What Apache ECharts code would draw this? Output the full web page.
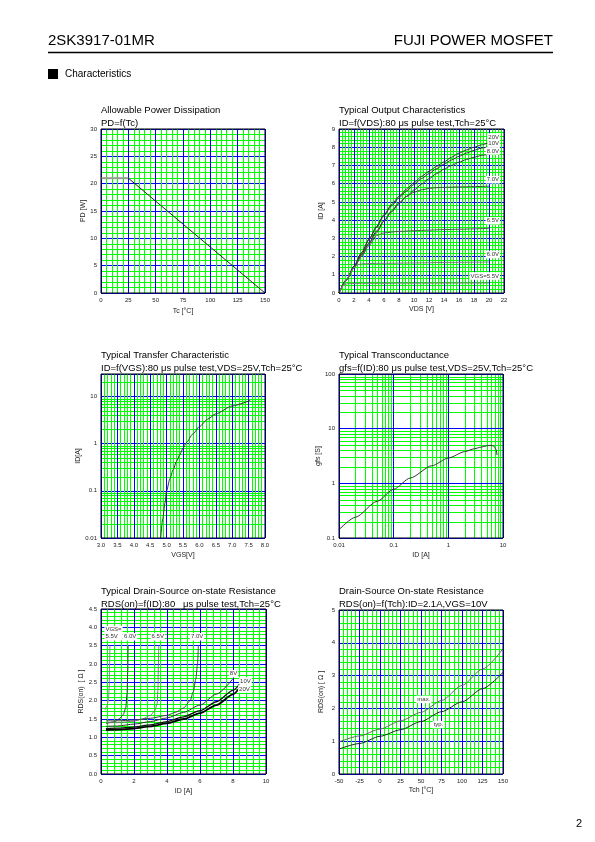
<!DOCTYPE html>
<html><head><meta charset="utf-8">
<script src="https://cdn.jsdelivr.net/npm/echarts@6/dist/echarts.min.js"></script>
<style>html,body{margin:0;padding:0;background:#fff}#c{width:595px;height:842px}</style>
</head><body><div id="c"></div>
<script>
// ---------- DATA ----------
// Chart 1: Allowable Power Dissipation  [Tc, PD]
const pdFlat = [[0, 21], [25, 21]];
const pdDerate = [[25, 21], [150, 0]];

// Chart 2: Typical Output Characteristics [VDS, ID]
const outNames = ['20V', '10V', '8.0V', '7.0V', '6.5V', '6.0V', 'VGS=5.5V'];
const out20 = [[0,0],[1,0.74],[2,1.47],[3,2.2],[4,2.95],[5,3.65],[6,4.3],[7,4.85],[8,5.3],[9,5.7],[10,6.05],[11,6.4],[12,6.68],[13,6.95],[14,7.2],[15,7.45],[16,7.68],[17,7.85],[18,8.0],[19,8.13],[20,8.26]];
const out10 = [[0,0],[1,0.74],[2,1.47],[3,2.2],[4,2.93],[5,3.6],[6,4.25],[7,4.78],[8,5.22],[9,5.6],[10,5.95],[11,6.28],[12,6.55],[13,6.82],[14,7.07],[15,7.3],[16,7.5],[17,7.68],[18,7.83],[19,7.95],[20,8.05]];
const out8 = [[0,0],[1,0.72],[2,1.43],[3,2.1],[4,2.75],[5,3.4],[6,3.95],[7,4.45],[8,4.9],[9,5.3],[10,5.65],[11,5.97],[12,6.27],[13,6.55],[14,6.8],[15,7.0],[16,7.18],[17,7.33],[18,7.45],[19,7.55],[20,7.63]];
const out7 = [[0,0],[1,0.72],[2,1.42],[3,2.08],[4,2.7],[5,3.3],[6,3.95],[7,4.5],[8,4.95],[9,5.3],[10,5.53],[11,5.66],[12,5.74],[13,5.78],[14,5.8],[16,5.82],[18,5.84],[20,5.86]];
const out65 = [[0,0],[1,0.7],[2,1.38],[3,2.0],[4,2.6],[5,3.15],[6,3.3],[8,3.38],[10,3.42],[12,3.45],[14,3.48],[16,3.5],[18,3.52],[20,3.55]];
const out6 = [[0,0],[0.5,0.38],[1,0.74],[1.5,1.08],[2,1.4],[2.5,1.55],[3,1.6],[4,1.62],[6,1.63],[10,1.65],[15,1.68],[20,1.7]];
const out55 = [[0,0],[0.3,0.25],[0.6,0.43],[1,0.5],[1.5,0.52],[3,0.53],[10,0.54],[20,0.55]];

// Chart 3: Typical Transfer Characteristic [VGS, ID]
const transfer = [[4.82,0.01],[4.88,0.025],[4.95,0.055],[5.0,0.1],[5.1,0.18],[5.2,0.28],[5.3,0.42],[5.4,0.58],[5.5,0.8],[5.6,1.05],[5.8,1.6],[6.0,2.3],[6.25,3.3],[6.5,4.3],[7.0,6.3],[7.55,8.3]];

// Chart 4: Typical Transconductance [ID, gfs]
const gfs = [[0.01,0.142],[0.02,0.24],[0.05,0.47],[0.1,0.78],[0.2,1.25],[0.5,2.1],[1,2.9],[2,3.8],[3,4.3],[4,4.6],[5,4.85],[6,4.95],[6.8,4.8],[7.4,4.2],[7.8,3.3]];

// Chart 5: Typical RDS(on) vs ID [ID, RDS]
const rdsNames = ['VGS=\n5.5V', '6.0V', '6.5V', '7.0V', '8V', '10V', '20V'];
const rds55 = [[0.24,1.75],[0.35,1.85],[0.45,2.0],[0.5,2.4],[0.52,3.0],[0.54,3.5]];
const rds60 = [[0.3,1.38],[0.8,1.42],[1.1,1.5],[1.35,1.62],[1.5,1.8],[1.58,2.2],[1.62,2.8],[1.64,3.5]];
const rds65 = [[0.3,1.4],[1,1.4],[2,1.44],[2.5,1.5],[3,1.6],[3.25,1.72],[3.4,1.9],[3.45,2.3],[3.48,3.0],[3.5,3.5]];
const rds70 = [[0.3,1.45],[1,1.45],[2,1.47],[3,1.52],[4,1.6],[4.5,1.68],[5,1.8],[5.4,2.0],[5.6,2.25],[5.75,2.6],[5.85,3.0],[5.9,3.5]];
const rds8 = [[0.3,1.3],[1,1.31],[2,1.36],[3,1.43],[4,1.53],[5,1.68],[6,1.88],[7,2.18],[8,2.6]];
const rds10 = [[0.3,1.24],[1,1.25],[2,1.28],[3,1.34],[4,1.43],[5,1.56],[6,1.73],[7,1.97],[8,2.28],[8.4,2.45]];
const rds20 = [[0.3,1.2],[1,1.21],[2,1.24],[3,1.3],[4,1.38],[5,1.5],[6,1.66],[7,1.88],[8,2.17],[8.4,2.35]];

// Chart 6: RDS(on) vs Tch [Tch, RDS]
const rdsTyp = [[-50,0.76],[-25,0.93],[0,1.15],[25,1.35],[50,1.6],[75,1.9],[100,2.2],[125,2.6],[150,3.1]];
const rdsMax = [[-50,0.98],[-25,1.16],[0,1.37],[25,1.62],[50,1.88],[75,2.24],[100,2.7],[125,3.2],[150,3.82]];

// ---------- STYLE / BUILD ----------
const GREEN = '#00ff00', BLUE = '#0000ff';
const FONT = '"Liberation Sans", Arial, Helvetica, sans-serif';

function ax(o) {
  const a = {
    type: o.type || 'value', gridIndex: o.g, min: o.min, max: o.max,
    name: o.name, nameLocation: 'middle', nameGap: o.gap,
    nameTextStyle: {fontSize: 7, color: '#222', fontFamily: FONT},
    axisLine: {show: false, onZero: false}, axisTick: {show: false},
    axisLabel: {fontSize: 6, color: '#222', margin: 4, fontFamily: FONT, showMaxLabel: o.showMax !== false},
    splitLine: {show: true, lineStyle: {color: BLUE, width: 1}},
    silent: true
  };
  if (o.fmt) a.axisLabel.formatter = o.fmt;
  if (o.interval != null) a.interval = o.interval;
  if (o.minor) {
    a.minorTick = {show: false, splitNumber: o.minor};
    a.minorSplitLine = {show: true, lineStyle: {color: GREEN, width: 1}};
  }
  if (o.type === 'log') a.logBase = 10;
  return a;
}
const logFmt = v => String(+Number(v).toPrecision(4));

function decadeMinors(e0, e1, maxV) {
  const out = [];
  for (let e = e0; e < e1; e++) for (let m = 2; m <= 9; m++) {
    const v = +(m * Math.pow(10, e)).toPrecision(3);
    if (maxV == null || v < maxV) out.push(v);
  }
  return out;
}
function minorLines(idx, vals, dim, ref) {
  return {
    type: 'custom', xAxisIndex: idx, yAxisIndex: idx, z: -1, silent: true, animation: false,
    data: vals.map(v => dim === 'y' ? [ref, v] : [v, ref]),
    renderItem: function (params, api) {
      const cs = params.coordSys;
      const p = api.coord([api.value(0), api.value(1)]);
      let shape;
      if (dim === 'y') { const y = Math.round(p[1]) + 0.5; shape = {x1: cs.x, y1: y, x2: cs.x + cs.width, y2: y}; }
      else { const x = Math.round(p[0]) + 0.5; shape = {x1: x, y1: cs.y, x2: x, y2: cs.y + cs.height}; }
      return {type: 'line', shape: shape, style: {stroke: GREEN, lineWidth: 1}};
    }
  };
}
function curve(idx, data, color, width, extra) {
  return Object.assign({
    type: 'line', xAxisIndex: idx, yAxisIndex: idx, data: data, symbol: 'none', silent: true,
    smooth: 0.25, smoothMonotone: 'x', animation: false,
    lineStyle: {color: color, width: width}
  }, extra || {});
}
function tag(pt, text, lab) {
  return {
    symbol: 'circle', symbolSize: 1, itemStyle: {color: 'rgba(0,0,0,0)'}, silent: true, animation: false,
    data: [{coord: pt}],
    label: Object.assign({show: true, formatter: text, fontSize: 6, color: '#333', backgroundColor: '#fff',
      padding: [0.5, 1, 0, 1], fontFamily: FONT, lineHeight: 7}, lab)
  };
}
const last = a => a[a.length - 1];

const grids = [
  {left: 101, top: 129, width: 164, height: 164},
  {left: 339, top: 129, width: 165, height: 164},
  {left: 101, top: 374, width: 164, height: 164},
  {left: 339, top: 374, width: 164, height: 164},
  {left: 101, top: 609, width: 165, height: 165},
  {left: 339, top: 610, width: 164, height: 164}
].map(g => Object.assign(g, {show: true, borderColor: '#000', borderWidth: 1, z: 5, backgroundColor: 'transparent'}));

const xAxes = [
  ax({g: 0, min: 0, max: 150, interval: 25, minor: 5, name: 'Tc [°C]', gap: 15}),
  ax({g: 1, min: 0, max: 22, interval: 2, minor: 5, name: 'VDS [V]', gap: 13}),
  ax({g: 2, min: 3, max: 8, interval: 0.5, minor: 5, name: 'VGS[V]', gap: 14, fmt: v => v.toFixed(1)}),
  ax({g: 3, type: 'log', min: 0.01, max: 10, name: 'ID [A]', gap: 14, fmt: logFmt}),
  ax({g: 4, min: 0, max: 10, interval: 2, minor: 5, name: 'ID [A]', gap: 14}),
  ax({g: 5, min: -50, max: 150, interval: 25, minor: 5, name: 'Tch [°C]', gap: 13})
];
const yAxes = [
  ax({g: 0, min: 0, max: 30, interval: 5, minor: 5, name: 'PD [W]', gap: 13}),
  ax({g: 1, min: 0, max: 9, interval: 1, minor: 5, name: 'ID [A]', gap: 14}),
  ax({g: 2, type: 'log', min: 0.01, max: 30, name: 'ID[A]', gap: 14, fmt: logFmt, showMax: false}),
  ax({g: 3, type: 'log', min: 0.1, max: 100, name: 'gfs [S]', gap: 12, fmt: logFmt}),
  ax({g: 4, min: 0, max: 4.5, interval: 0.5, minor: 5, name: 'RDS(on)  [ Ω ]', gap: 9, fmt: v => v.toFixed(1)}),
  ax({g: 5, min: 0, max: 5, interval: 1, minor: 5, name: 'RDS(on) [ Ω ]', gap: 14})
];

const outData = [out20, out10, out8, out7, out65, out6, out55];
const outColors = ['#333', '#333', '#333', '#444', '#555', '#777', '#777'];
const outDy = [-5, -2, -2.5, -6, -7, -7, -6.5];

const rdsData = [rds55, rds60, rds65, rds70, rds8, rds10, rds20];
const rdsColors = ['#888', '#333', '#777', '#444', '#333', '#111', '#000'];
const rdsWidths = [1, 1, 1, 1, 1, 1.3, 1.8];
const rdsLab = [
  {position: [-5, -12], align: 'left', verticalAlign: 'middle'},
  {position: [2.6, -8.4], align: 'center', verticalAlign: 'middle'},
  {position: [-0.5, -8.4], align: 'center', verticalAlign: 'middle'},
  {position: [-0.8, -8.4], align: 'center', verticalAlign: 'middle'},
  {position: [1, -4.4], align: 'center', verticalAlign: 'middle'},
  {position: [0, -2.6], align: 'left', verticalAlign: 'middle'},
  {position: [-1, 1.6], align: 'left', verticalAlign: 'middle'}
];

const series = [];
// chart 1
series.push(curve(0, pdFlat, '#999', 2, {smooth: false}));
series.push(curve(0, pdDerate, '#222', 1, {smooth: false}));
// chart 2
outData.forEach((d, i) => series.push(curve(1, d, outColors[i], 1, {
  markPoint: tag(last(d), outNames[i], {position: [11.5, outDy[i]], align: 'right', verticalAlign: 'middle'})
})));
// chart 3
series.push(minorLines(2, decadeMinors(-2, 2, 30), 'y', 3));
series.push(curve(2, transfer, '#333', 1));
// chart 4
series.push(minorLines(3, decadeMinors(-2, 1), 'x', 0.1));
series.push(minorLines(3, decadeMinors(-1, 2), 'y', 0.01));
series.push(curve(3, gfs, '#333', 1));
// chart 5
rdsData.forEach((d, i) => series.push(curve(4, d, rdsColors[i], rdsWidths[i], {
  markPoint: tag(last(d), rdsNames[i], rdsLab[i])
})));
// chart 6
series.push(curve(5, rdsMax, '#666', 1, {markPoint: tag(rdsMax[4], 'max.', {position: [3.3, -12.5], align: 'center', verticalAlign: 'middle'})}));
series.push(curve(5, rdsTyp, '#222', 1, {markPoint: tag(rdsTyp[5], 'typ.', {position: [-2.5, 13.4], align: 'center', verticalAlign: 'middle'})}));

const tStyle = {fontSize: 9.5, fontWeight: 'normal', color: '#000', lineHeight: 13, fontFamily: FONT};
const titles = [
  ['Allowable Power Dissipation\nPD=f(Tc)', 101, 104],
  ['Typical Output Characteristics\nID=f(VDS):80 μs pulse test,Tch=25°C', 339, 104],
  ['Typical Transfer Characteristic\nID=f(VGS):80 μs pulse test,VDS=25V,Tch=25°C', 101, 349],
  ['Typical Transconductance\ngfs=f(ID):80 μs pulse test,VDS=25V,Tch=25°C', 339, 349],
  ['Typical Drain-Source on-state Resistance\nRDS(on)=f(ID):80   μs pulse test,Tch=25°C', 101, 585],
  ['Drain-Source On-state Resistance\nRDS(on)=f(Tch):ID=2.1A,VGS=10V', 339, 585]
].map(t => ({text: t[0], left: t[1], top: t[2], padding: 0, itemGap: 0, textStyle: tStyle}));

const graphic = [
  {type: 'text', left: 48, top: 33, style: {text: '2SK3917-01MR', fontSize: 15, fill: '#000', fontFamily: FONT}},
  {type: 'text', right: 42, top: 33, style: {text: 'FUJI POWER MOSFET', fontSize: 15, fill: '#000', fontFamily: FONT}},
  {type: 'line', shape: {x1: 48, y1: 52.5, x2: 553, y2: 52.5}, style: {stroke: '#000', lineWidth: 1.5}},
  {type: 'rect', shape: {x: 48, y: 69, width: 10, height: 10}, style: {fill: '#000'}},
  {type: 'text', left: 65, top: 69.5, style: {text: 'Characteristics', fontSize: 10, fill: '#000', fontFamily: FONT}},
  {type: 'text', left: 576, top: 818, style: {text: '2', fontSize: 11, fill: '#000', fontFamily: FONT}}
];

const chart = echarts.init(document.getElementById('c'), null, {renderer: 'canvas'});
chart.setOption({
  backgroundColor: '#fff',
  animation: false,
  title: titles,
  grid: grids,
  xAxis: xAxes,
  yAxis: yAxes,
  series: series,
  graphic: graphic
});
</script></body></html>
